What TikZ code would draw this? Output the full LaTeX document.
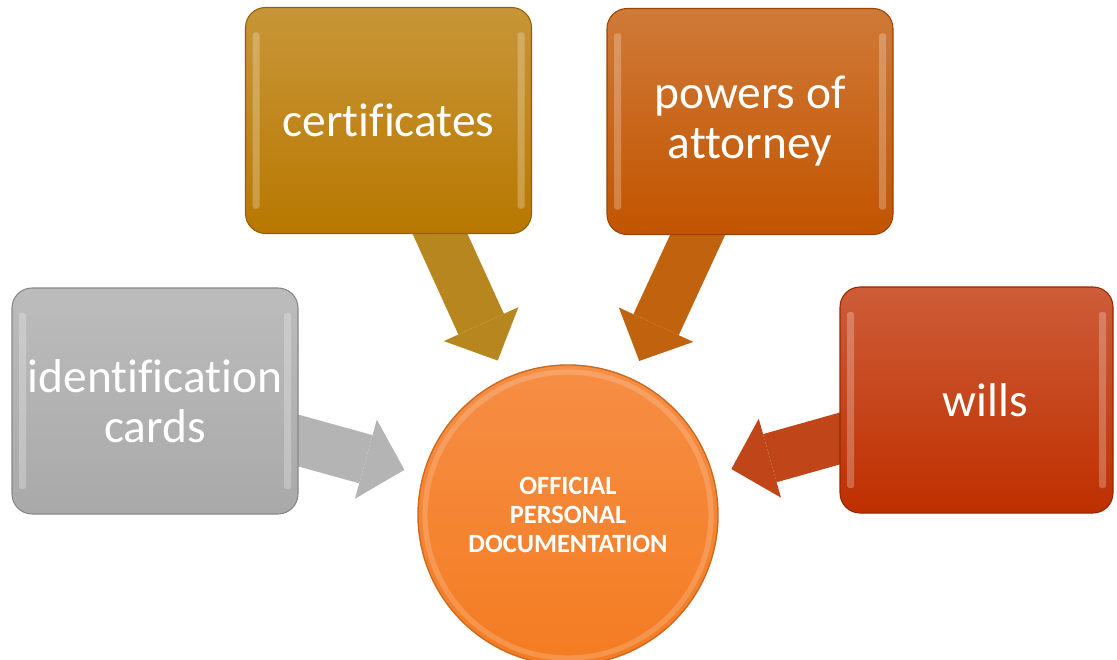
\documentclass[tikz,border=0pt]{standalone}
\usepackage{fontspec}
\setmainfont{Carlito}[Ligatures=NoCommon]
\usetikzlibrary{arrows.meta,backgrounds}

\definecolor{greyBox}{HTML}{A9A9A9}
\definecolor{certBox}{HTML}{B87800}
\definecolor{poaBox}{HTML}{C25400}
\definecolor{willBox}{HTML}{BF2F00}
\definecolor{greyFlow}{HTML}{B4B4B4}
\definecolor{certFlow}{HTML}{B8861E}
\definecolor{poaFlow}{HTML}{C0620E}
\definecolor{willFlow}{HTML}{C0461A}
\definecolor{docTop}{HTML}{F68E45}
\definecolor{docBottom}{HTML}{F47C22}

\begin{document}
\begin{tikzpicture}[
    font=\fontsize{27}{28.5}\selectfont,
    every node/.style={align=center, text=white},
    glossy/.style={path picture={
        \fill[white, opacity=0.25, rounded corners=1pt]
            ([xshift=0.14cm, yshift=-0.5cm]path picture bounding box.north west) rectangle
            ([xshift=0.28cm, yshift=0.5cm]path picture bounding box.south west);
        \fill[white, opacity=0.25, rounded corners=1pt]
            ([xshift=-0.14cm, yshift=-0.5cm]path picture bounding box.north east) rectangle
            ([xshift=-0.28cm, yshift=0.5cm]path picture bounding box.south east);
    }},
    docbox/.style={rounded corners=0.4cm, inner sep=2pt, minimum width=5.72cm, minimum height=4.52cm,
        draw=#1!80!black, line width=0.6pt, top color=#1!78!white, bottom color=#1, glossy},
    hubcircle/.style={circle, minimum size=6cm, inner sep=0pt, draw=docBottom!85!black, line width=0.8pt,
        top color=docTop, bottom color=docBottom,
        path picture={\draw[white, opacity=0.18, line width=3pt]
            (path picture bounding box.center) circle (2.86cm);},
        font=\bfseries\fontsize{15}{16.5}\selectfont},
    flow/.style={draw=#1, line width=1cm, shorten <=-0.6cm, shorten >=0.38cm,
        -{Triangle[width=1.64cm, length=0.8cm, line width=0pt]}}
]
\useasboundingbox (0,0) rectangle (22.34,13.18);

% centre circle
\node[hubcircle] (doc) at (11.36, 2.88) {OFFICIAL\\PERSONAL\\DOCUMENTATION};

% the four kinds of documents
\node[docbox=greyBox] (idcard) at (3.10, 5.16) {identification\\cards};
\node[docbox=certBox] (cert) at (7.77, 10.77) {certificates};
\node[docbox=poaBox] (poa) at (15.00, 10.75) {powers of\\attorney};
\node[docbox=willBox, minimum width=5.46cm] (wills) at (19.53, 5.18) {\hspace{0.35cm}wills};

% block arrows into the circle
\begin{scope}[on background layer]
\draw[flow=greyFlow] (idcard) -- (doc);
\draw[flow=certFlow] (cert) -- (doc);
\draw[flow=poaFlow] (poa) -- (doc);
\draw[flow=willFlow] (wills) -- (doc);
\end{scope}

\end{tikzpicture}
\end{document}
